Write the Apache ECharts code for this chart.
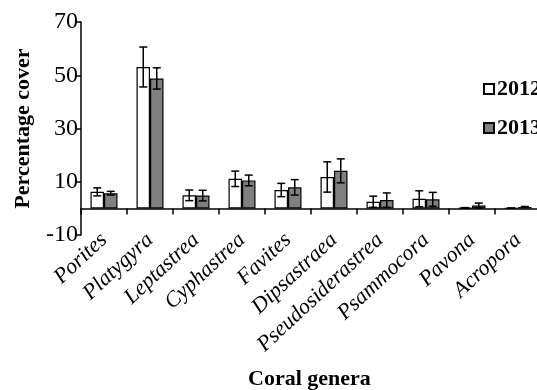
<!DOCTYPE html>
<html>
<head>
<meta charset="utf-8">
<script src="https://cdn.jsdelivr.net/npm/echarts@6/dist/echarts.min.js"></script>
<style>
    html, body { margin: 0; padding: 0; background: #fff; }
    #chart { width: 537px; height: 390px; }
</style>
</head>
<body>
<div id="chart"></div>
<script>
const categories = ['Porites', 'Platygyra', 'Leptastrea', 'Cyphastrea', 'Favites',
    'Dipsastraea', 'Pseudosiderastrea', 'Psammocora', 'Pavona', 'Acropora'];
const cover2012 = [6.2, 53.1, 4.9, 11.1, 6.9, 11.8, 2.5, 3.6, 0.2, 0.1];
const err2012 = [1.5, 7.5, 2.0, 2.9, 2.5, 5.7, 2.1, 3.0, 0.1, 0.05];
const cover2013 = [5.7, 48.8, 4.8, 10.5, 7.9, 14.1, 3.1, 3.4, 1.1, 0.5];
const err2013 = [0.7, 4.0, 2.0, 2.0, 2.9, 4.5, 2.7, 2.6, 0.9, 0.2];
const yTicks = { min: -10, max: 70, step: 20 };

const serif = 'Liberation Serif';
const barW = 13.5;

// [category index, low, high]
function errData(vals, errs) {
    return vals.map((v, i) => [i, v - errs[i], v + errs[i]]);
}

function errRender(offset) {
    return function (params, api) {
        const i = api.value(0);
        const lo = api.coord([i, api.value(1)]);
        const hi = api.coord([i, api.value(2)]);
        const x = lo[0] + offset;
        const cap = 4;
        const style = { stroke: '#000', lineWidth: 1.5 };
        return {
            type: 'group',
            children: [
                { type: 'line', shape: { x1: x, y1: lo[1], x2: x, y2: hi[1] }, style },
                { type: 'line', shape: { x1: x - cap, y1: lo[1], x2: x + cap, y2: lo[1] }, style },
                { type: 'line', shape: { x1: x - cap, y1: hi[1], x2: x + cap, y2: hi[1] }, style }
            ]
        };
    };
}

const chart = echarts.init(document.getElementById('chart'));
const option = {
    animation: false,
    // x axis title, placed under the rotated labels
    title: {
        text: 'Coral genera',
        left: 248,
        top: 368,
        padding: 0,
        textStyle: { fontFamily: serif, fontWeight: 'bold', fontSize: 22, color: '#000' }
    },
    grid: { left: 81, top: 22, width: 460, bottom: 155, outerBoundsMode: 'none', containLabel: false },
    legend: {
        orient: 'vertical',
        left: 478,
        top: 73,
        itemWidth: 10,
        itemHeight: 10,
        itemGap: 17,
        icon: 'rect',
        data: ['2012', '2013'],
        textStyle: { fontFamily: serif, fontWeight: 'bold', fontSize: 22, color: '#000', padding: [0, 0, 0, -2] }
    },
    xAxis: {
        type: 'category',
        data: categories,
        axisLine: { onZero: true, lineStyle: { color: '#000', width: 1.5 } },
        axisTick: { show: true, length: 6, lineStyle: { color: '#000', width: 1.5 } },
        axisLabel: {
            interval: 0,
            rotate: 43,
            margin: 2,
            fontFamily: serif,
            fontStyle: 'italic',
            fontSize: 22,
            color: '#000'
        }
    },
    yAxis: {
        type: 'value',
        min: yTicks.min,
        max: yTicks.max,
        interval: yTicks.step,
        name: 'Percentage cover',
        nameLocation: 'middle',
        nameGap: 47,
        nameTextStyle: { fontFamily: serif, fontWeight: 'bold', fontSize: 22, color: '#000' },
        axisLine: { show: true, lineStyle: { color: '#000', width: 1.5 } },
        axisTick: { show: true, length: 5, lineStyle: { color: '#000', width: 1.5 } },
        axisLabel: { margin: 3, fontFamily: serif, fontSize: 24, color: '#000' },
        splitLine: { show: false }
    },
    series: [
        {
            name: '2012',
            type: 'bar',
            data: cover2012,
            barWidth: barW,
            barGap: '0%',
            itemStyle: { color: '#fff', borderColor: '#000', borderWidth: 1.2 }
        },
        {
            name: '2013',
            type: 'bar',
            data: cover2013,
            barWidth: barW,
            barGap: '0%',
            itemStyle: { color: '#808080', borderColor: '#000', borderWidth: 1.2 }
        },
        {
            type: 'custom',
            renderItem: errRender(-barW / 2),
            encode: { x: 0, y: [1, 2] },
            data: errData(cover2012, err2012),
            z: 5
        },
        {
            type: 'custom',
            renderItem: errRender(barW / 2),
            encode: { x: 0, y: [1, 2] },
            data: errData(cover2013, err2013),
            z: 5
        }
    ]
};
chart.setOption(option);
window.addEventListener('resize', () => chart.resize());
</script>
</body>
</html>
